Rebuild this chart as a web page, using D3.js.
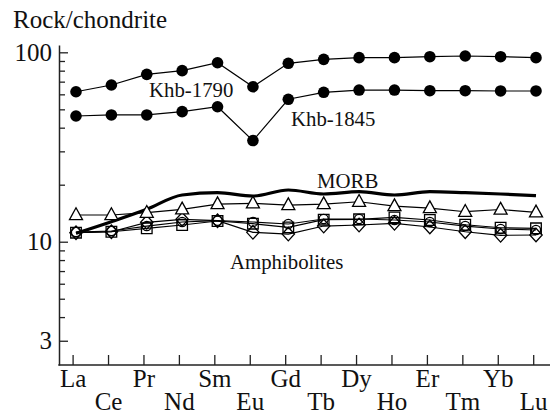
<!DOCTYPE html>
<html><head><meta charset="utf-8">
<script src="https://cdn.jsdelivr.net/npm/d3@7"></script>
</head><body style="margin:0">
<script>
const elements = ["La","Ce","Pr","Nd","Sm","Eu","Gd","Tb","Dy","Ho","Er","Tm","Yb","Lu"];
const khb1790 = [61.9, 67.2, 76.5, 80.0, 88.1, 65.8, 87.5, 91.8, 93.7, 93.7, 94.8, 95.6, 94.8, 93.7];
const khb1845 = [46.1, 46.7, 46.7, 48.6, 51.6, 34.2, 56.5, 61.5, 63.2, 63.2, 62.7, 62.7, 62.5, 62.5];
const morb    = [11.07, 12.75, 14.83, 17.65, 18.15, 17.43, 18.75, 17.86, 18.37, 17.65, 18.37, 18.15, 17.86, 17.5];
const amphTriangle = [13.84, 13.84, 14.23, 14.83, 15.81, 15.95, 15.62, 15.81, 16.26, 15.43, 15.06, 14.40, 14.79, 14.30];
const amphSquare   = [11.16, 11.29, 11.77, 12.25, 12.86, 12.45, 11.91, 13.07, 13.13, 13.45, 13.02, 12.29, 11.85, 11.77];
const amphDiamond  = [11.16, 11.29, 12.66, 13.13, 12.91, 11.21, 10.98, 12.10, 12.25, 12.51, 11.96, 11.29, 10.81, 10.85];
const amphCircle   = [11.25, 11.39, 12.10, 12.71, 12.91, 12.71, 12.40, 13.18, 13.18, 13.02, 12.71, 12.10, 11.67, 11.53];
const yTickValues = [3,4,5,6,7,8,9,10,20,30,40,50,60,70,80,90,100];
const yTickLabels = [3,10,100];

const W = 550, H = 414;
const FONT = '"Liberation Serif"';
const svg = d3.select("body").append("svg").attr("width", W).attr("height", H)
  .style("display", "block").style("background", "#fff").style("font-family", FONT);

const x = d3.scalePoint().domain(elements).range([76, 536]);
const xt = d3.scalePoint().domain(elements).range([72.6, 533.2]);
const y = d3.scaleLog().domain([2.234, 109.3]).range([365, 45]);

// Y axis
const ya = svg.append("g").attr("transform", "translate(59,0)")
  .call(d3.axisLeft(y).tickValues(yTickValues).tickSize(-6).tickSizeOuter(0).tickPadding(7)
    .tickFormat(d => yTickLabels.includes(d) ? d : ""));
ya.attr("font-family", null).attr("font-size", null).style("font-family", FONT);
ya.selectAll("line").attr("stroke", "#222").attr("stroke-width", 1.3);
ya.selectAll(".tick").filter(d => yTickLabels.includes(d)).select("line").attr("x2", 9);
ya.select(".domain").attr("stroke", "#222").attr("stroke-width", 1.5);
ya.selectAll("text").style("font-family", FONT).attr("font-size", 25).attr("fill", "#111");

// X axis
const xa = svg.append("g").attr("transform", "translate(0,365)")
  .call(d3.axisBottom(xt).tickSize(-10).tickSizeOuter(0));
xa.attr("font-family", null).attr("font-size", null).style("font-family", FONT);
xa.select(".domain").remove();
xa.selectAll("line").attr("stroke", "#222").attr("stroke-width", 1.3);
xa.selectAll("text").style("font-family", FONT).attr("font-size", 25).attr("fill", "#111")
  .attr("dy", null).attr("y", (d, i) => i % 2 === 0 ? 22 : 45);
svg.append("line").attr("x1", 58.3).attr("x2", 550).attr("y1", 365).attr("y2", 365)
  .attr("stroke", "#222").attr("stroke-width", 1.5);

// Title
svg.append("text").attr("x", 13).attr("y", 28).style("font-family", FONT).attr("font-size", 25)
  .attr("fill", "#111").text("Rock/chondrite");

const line = d3.line().x((d, i) => x(elements[i])).y(d => y(d));

function drawSeries(vals, shape) {
  svg.append("path").attr("d", line(vals)).attr("fill", "none").attr("stroke", "#000").attr("stroke-width", 1.2);
  const g = svg.append("g");
  vals.forEach((v, i) => {
    const cx = x(elements[i]), cy = y(v);
    if (shape === "dot") {
      g.append("circle").attr("cx", cx).attr("cy", cy).attr("r", 5.8).attr("fill", "#000");
    } else if (shape === "circle") {
      g.append("circle").attr("cx", cx).attr("cy", cy).attr("r", 4.6).attr("fill", "none").attr("stroke", "#000").attr("stroke-width", 1.3);
    } else {
      let p;
      if (shape === "triangle") p = "M0,-7.2L6.5,4.6L-6.5,4.6Z";
      else if (shape === "square") p = "M-5.3,-5.3H5.3V5.3H-5.3Z";
      else p = "M0,-6.8L6.2,0L0,6.8L-6.2,0Z";
      g.append("path").attr("d", p).attr("transform", `translate(${cx},${cy})`)
        .attr("fill", shape === "triangle" ? "#fff" : "none").attr("stroke", "#000").attr("stroke-width", 1.3);
    }
  });
}

// MORB thick line
svg.append("path").attr("d", d3.line().x((d, i) => x(elements[i])).y(d => y(d)).curve(d3.curveMonotoneX)(morb))
  .attr("fill", "none").attr("stroke", "#000").attr("stroke-width", 3.2);

drawSeries(amphCircle, "circle");
drawSeries(amphDiamond, "diamond");
drawSeries(amphSquare, "square");
drawSeries(amphTriangle, "triangle");
drawSeries(khb1845, "dot");
drawSeries(khb1790, "dot");

// Labels
const labels = [
  {t: "Khb-1790", x: 149, y: 97},
  {t: "Khb-1845", x: 291, y: 126},
  {t: "MORB", x: 317, y: 188},
  {t: "Amphibolites", x: 230, y: 269}
];
svg.selectAll("text.lab").data(labels).enter().append("text").attr("class", "lab")
  .attr("x", d => d.x).attr("y", d => d.y).style("font-family", FONT).attr("font-size", 20.8)
  .attr("fill", "#111").text(d => d.t);
</script>
</body></html>
